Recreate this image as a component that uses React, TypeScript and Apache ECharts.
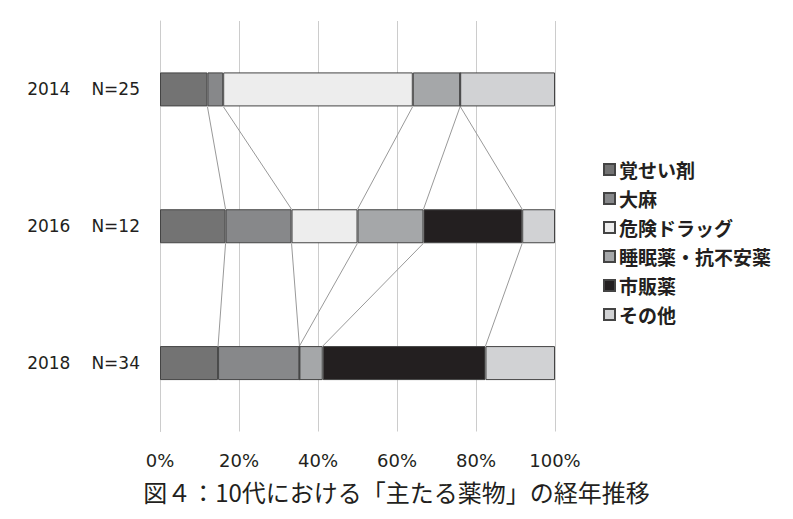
import React, { useEffect, useRef } from "react";
import * as echarts from "echarts";

const years = ["2014", "2016", "2018"];
const sampleSizes = ["N=25", "N=12", "N=34"];
const seriesNames = ["覚せい剤", "大麻", "危険ドラッグ", "睡眠薬・抗不安薬", "市販薬", "その他"];
const kakuseizai = [12, 16.6, 14.7];
const taima = [4, 16.7, 20.6];
const kikenDrug = [48, 16.7, 0];
const suiminyaku = [12, 16.7, 5.9];
const shihanyaku = [0, 25, 41.2];
const sonota = [24, 8.3, 17.6];
const xTicks = [0, 20, 40, 60, 80, 100];
const colors = ["#737373", "#87888a", "#ededed", "#a5a7a9", "#231f20", "#d1d2d4"];
const titleText = "図４：10代における「主たる薬物」の経年推移";

const BAR_H = 34;

export default function App() {
  const ref = useRef<HTMLDivElement>(null);
  useEffect(() => {
    if (!ref.current) return;
    const chart = echarts.init(ref.current, null, { renderer: "svg" });
    const allSeries = [kakuseizai, taima, kikenDrug, suiminyaku, shihanyaku, sonota];
    const cum = years.map((_, ci) => {
      let s = 0;
      const out: number[] = [];
      for (let k = 0; k < allSeries.length - 1; k++) {
        s += allSeries[k][ci];
        out.push(s);
      }
      return out;
    });
    const linkData: number[][] = [];
    for (let ci = 0; ci < years.length - 1; ci++) {
      for (let k = 0; k < cum[ci].length; k++) {
        linkData.push([cum[ci][k], ci, cum[ci + 1][k], ci + 1]);
      }
    }
    const cats = years.map((y, i) => `{y|${y}}{n|${sampleSizes[i]}}`);
    const font = "'DejaVu Sans', sans-serif";
    const cjk = "'Noto Sans CJK JP', sans-serif";
    chart.setOption({
      animation: false,
      grid: { left: 160, right: 238, top: 21, bottom: 87.5 },
      legend: {
        data: seriesNames,
        orient: "vertical",
        left: 603,
        top: 160,
        padding: 0,
        icon: "rect",
        itemWidth: 11,
        itemHeight: 11,
        itemGap: 10,
        textStyle: {
          fontFamily: cjk,
          fontWeight: "bold",
          fontSize: 19,
          lineHeight: 19,
          color: "#231f20",
          padding: [0, 0, 0, -1],
        },
      },
      title: {
        text: titleText,
        left: "center",
        top: 479,
        padding: 0,
        textStyle: { fontFamily: cjk, fontWeight: "normal", fontSize: 24, color: "#231f20" },
      },
      xAxis: {
        type: "value",
        min: 0,
        max: 100,
        interval: 20,
        axisLine: { show: false },
        axisTick: { show: false },
        axisLabel: {
          formatter: (v: number) => (xTicks.includes(v) ? `${v}%` : ""),
          fontFamily: font,
          fontSize: 18,
          color: "#231f20",
          margin: 20,
        },
        splitLine: { lineStyle: { color: "#cccccc", width: 1 } },
      },
      yAxis: {
        type: "category",
        data: cats,
        inverse: true,
        axisLine: { show: true, lineStyle: { color: "#cccccc" } },
        axisTick: { show: false },
        axisLabel: {
          margin: 20,
          rich: {
            y: { fontFamily: font, fontSize: 17, color: "#231f20" },
            n: { fontFamily: font, fontSize: 17, color: "#231f20", padding: [0, 0, 0, 21] },
          },
        },
      },
      series: [
        ...seriesNames.map((name, i) => ({
          name,
          type: "bar",
          stack: "total",
          barWidth: BAR_H,
          data: allSeries[i],
          itemStyle: { color: colors[i], borderColor: "#444444", borderWidth: 1 },
          z: 3,
        })),
        {
          type: "custom",
          name: "links",
          data: linkData,
          encode: { x: [0, 2], y: [1, 3] },
          silent: true,
          z: 1,
          renderItem: (params: any, api: any) => {
            const p1 = api.coord([api.value(0), api.value(1)]);
            const p2 = api.coord([api.value(2), api.value(3)]);
            return {
              type: "line",
              shape: { x1: p1[0], y1: p1[1] + BAR_H / 2, x2: p2[0], y2: p2[1] - BAR_H / 2 },
              style: { stroke: "#999999", lineWidth: 1 },
            };
          },
        },
      ],
    });
    return () => chart.dispose();
  }, []);
  return <div ref={ref} style={{ width: 793, height: 519, margin: -8 }} />;
}
